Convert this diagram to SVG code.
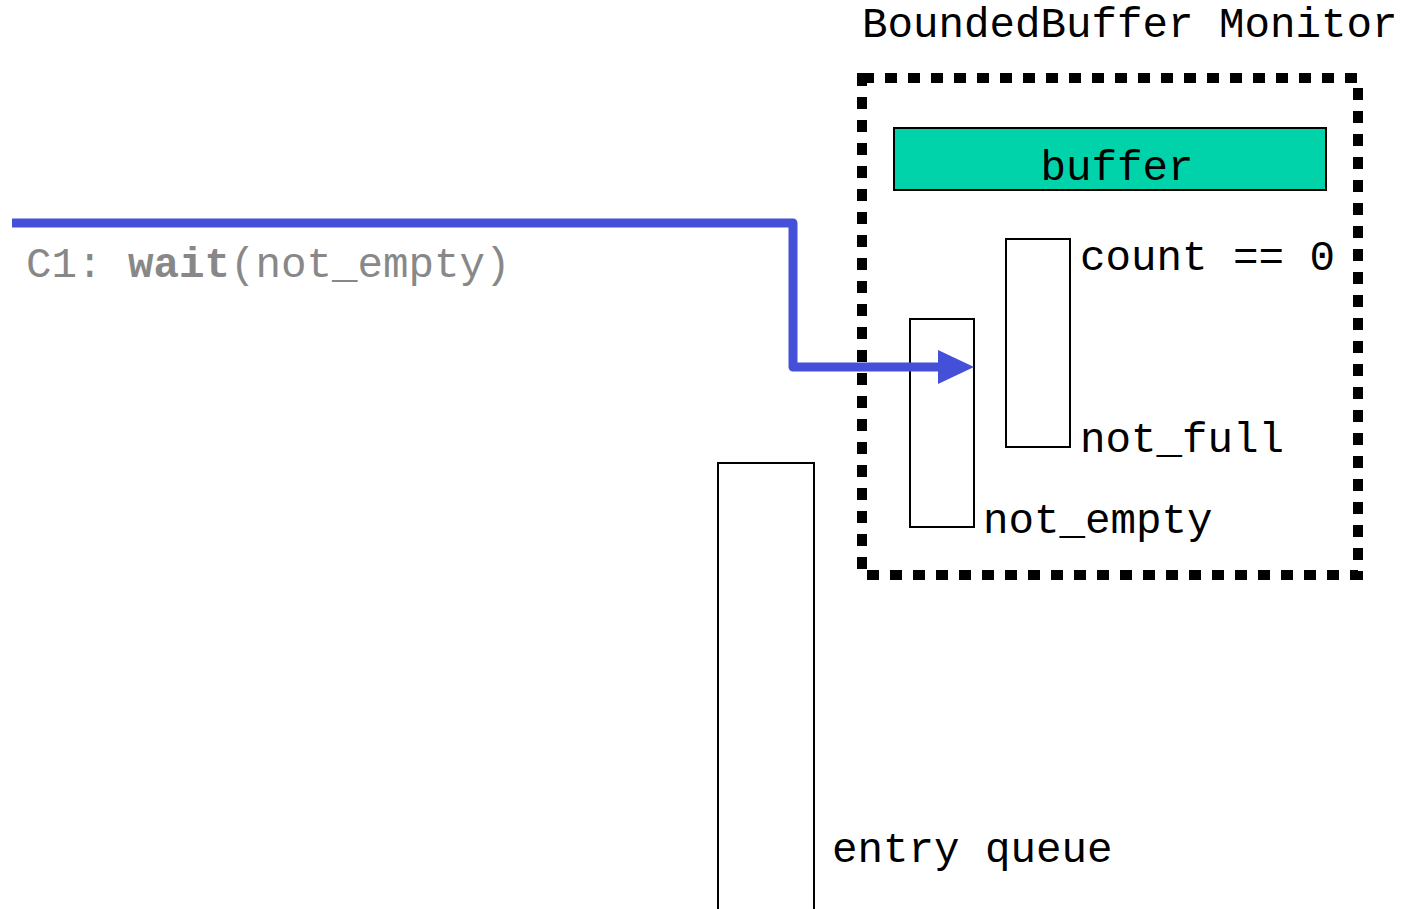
<svg xmlns="http://www.w3.org/2000/svg" width="1405" height="909" viewBox="0 0 1405 909">
<style>
text{font-family:"Liberation Mono","Courier New",monospace;font-size:42.5px;fill:#000}
.box{fill:#fff;stroke:#000;stroke-width:2}
</style>
<defs>
<marker id="ah" markerUnits="userSpaceOnUse" markerWidth="40" markerHeight="40" refX="0" refY="17" orient="auto">
<path d="M0,0 L36,17 L0,34 Z" fill="#4450D8"/>
</marker>
</defs>
<rect width="1405" height="909" fill="#fff"/>
<g id="monitor">
<rect x="862" y="78" width="496" height="497" fill="none" stroke="#000" stroke-width="10" stroke-dasharray="12 11"/>
<text x="862" y="37">BoundedBuffer Monitor</text>
</g>
<g id="buffer">
<rect x="894" y="128" width="432" height="62" fill="#00D2AA" stroke="#000" stroke-width="2"/>
<text x="1117" y="180" text-anchor="middle">buffer</text>
</g>
<g id="not_full">
<rect class="box" x="1006" y="239" width="64" height="208"/>
<text x="1080" y="270">count == 0</text>
<text x="1080" y="452">not_full</text>
</g>
<g id="not_empty">
<rect class="box" x="910" y="319" width="64" height="208"/>
<text x="983" y="533">not_empty</text>
</g>
<g id="entry_queue">
<rect class="box" x="718" y="463" width="96" height="460"/>
<text x="832" y="862">entry queue</text>
</g>
<g id="c1">
<text x="26" y="277" style="fill:#888">C1: <tspan font-weight="bold">wait</tspan>(not_empty)</text>
</g>
<g id="connectors">
<path d="M12,223 H793 V367 H938" fill="none" stroke="#4450D8" stroke-width="9" stroke-linejoin="round" marker-end="url(#ah)"/>
</g>
</svg>
